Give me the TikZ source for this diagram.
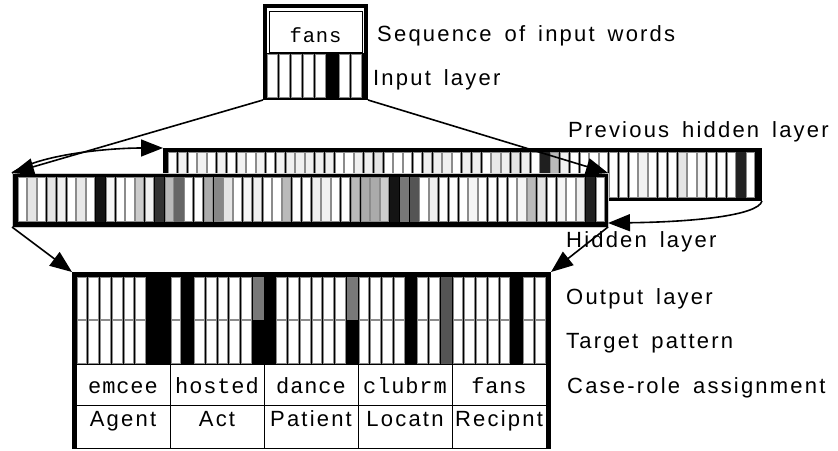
\documentclass[tikz,border=0pt]{standalone}
\usepackage{fontspec}
\setmainfont{Liberation Sans}
\newfontfamily\labelfont[LetterSpace=10]{Liberation Sans}
\newfontfamily\wordfont[LetterSpace=4]{Liberation Mono}
\usetikzlibrary{arrows.meta,calc}
\newcommand\sidefont{\labelfont\fontsize{22}{26}\selectfont\spaceskip=13pt\relax}
\tikzset{
  layerbox/.style={fill=black,inner sep=0pt,outer sep=0pt},
  unitcell/.style={line width=0.6pt},
  bigarrow/.style={line width=1.6pt,-{Triangle[length=22pt,width=17pt]}},
  sidelabel/.style={anchor=base west,inner sep=0pt,font=\sidefont},
  wordlabel/.style={anchor=base,inner sep=0pt,font=\wordfont\fontsize{22}{24}\selectfont},
  rolelabel/.style={anchor=base,inner sep=0pt,font=\labelfont\fontsize{22}{26}\selectfont},
}
\begin{document}
\begin{tikzpicture}[x=1pt,y=-1pt]
  \useasboundingbox (0,0) rectangle (838,450);
  \def\hpitch{9.8}
  \def\opitch{11.75}
  % unit activations in percent black
  \def\prevact{0,5,0,5,0,5,0,5,0,5, 0,5,6,6,6,6,6,0,0,6, 6,10,0,0,0,0,6,6,6,0,
    6,6,0,9,6,10,6,0,88,27, 6,0,0,0,0,0,0,0,5,0, 0,0,10,0,4,0,0,0,87,0}
  \def\hidact{0,10,0,10,6,0,9,0,92,3, 0,0,20,6,80,27,60,0,0,33, 47,10,0,4,6,0,0,27,0,0,
    6,6,0,0,27,33,33,20,92,53, 67,0,6,0,0,0,4,0,0,0, 0,4,27,10,0,4,0,6,87,0}
  \def\outact{0,0,0,0,0,0,100,100, 0,100,0,0,0,0,0,53, 100,0,0,0,0,0,0,53,
    0,0,0,0,100,0,0,67, 0,0,0,0,0,100,0,0}
  \def\tgtact{0,0,0,0,0,0,100,100, 0,100,0,0,0,0,0,100, 100,0,0,0,0,0,0,100,
    0,0,0,0,100,0,0,67, 0,0,0,0,0,100,0,0}

  % previous hidden layer
  \node[layerbox,minimum width=599pt,minimum height=53pt] (prev) at (462.5,174.5) {};
  \foreach \a [count=\k from 0] in \prevact {
    \pgfmathtruncatemacro\ed{max(45,\a)}
    \filldraw[unitcell,draw=black!\ed,fill=black!\a] ({167.5+\k*\hpitch+0.8},152.5) rectangle ({167.5+(\k+1)*\hpitch-0.8},197);
  }

  % hidden layer
  \node[layerbox,draw=black!20,line width=0.8pt,minimum width=596pt,minimum height=54pt] (hid) at (310,200) {};
  \foreach \a [count=\k from 0] in \hidact {
    \pgfmathtruncatemacro\ed{max(45,\a)}
    \filldraw[unitcell,draw=black!\ed,fill=black!\a] ({17+\k*\hpitch+0.8},177.5) rectangle ({17+(\k+1)*\hpitch-0.8},221.5);
  }

  % input word and input layer
  \node[layerbox,minimum width=105pt,minimum height=96pt] (inp) at (315.5,52) {};
  \fill[white] (267,8) rectangle (364,53);
  \draw[line width=0.8pt] (269,11) rectangle (362,52);
  \node[wordlabel,font=\wordfont\fontsize{20.5}{24}\selectfont] (inword) at (315.5,42) {fans};
  \foreach \a [count=\k from 0] in {0,0,0,0,0,100,0,0} {
    \pgfmathtruncatemacro\ed{max(45,\a)}
    \filldraw[unitcell,draw=black!\ed,fill=black!\a] ({266+\k*12+0.9},54.5) rectangle ({266+(\k+1)*12-0.9},97);
  }

  % output layer, target pattern and case roles
  \node[layerbox,minimum width=479pt,minimum height=177pt] (out) at (311.5,360.5) {};
  \foreach \a [count=\k from 0] in \outact {
    \pgfmathtruncatemacro\ed{max(45,\a)}
    \filldraw[unitcell,draw=black!\ed,fill=black!\a] ({76+\k*\opitch+1},277.5) rectangle ({76+(\k+1)*\opitch-1},319);
  }
  \foreach \a [count=\k from 0] in \tgtact {
    \pgfmathtruncatemacro\ed{max(45,\a)}
    \filldraw[unitcell,draw=black!\ed,fill=black!\a] ({76+\k*\opitch+1},320) rectangle ({76+(\k+1)*\opitch-1},363);
  }
  \fill[white] (77,365) rectangle (546,448);
  \draw[line width=0.8pt] (77,405) -- (546,405);
  \foreach \g in {1,...,4}
    \draw[line width=0.8pt] ({76+8*\g*\opitch},364) -- ({76+8*\g*\opitch},448);
  \foreach \w [count=\k from 0] in {emcee,hosted,dance,clubrm,fans}
    \node[wordlabel] (word\k) at ({76+(8*\k+4)*\opitch},393) {\w};
  \foreach \r [count=\k from 0] in {Agent,Act,Patient,Locatn,Recipnt}
    \node[rolelabel] (role\k) at ({76+(8*\k+4)*\opitch},426) {\r};

  % connections
  \draw[bigarrow] (inp.south west) -- (hid.north west);
  \draw[bigarrow] (inp.south east) -- (hid.north east);
  \draw[bigarrow] (hid.north west) .. controls (40,154) and (110,148) .. (prev.north west);
  \draw[bigarrow] (prev.south east) .. controls (758,216) and (690,222) .. ($(hid.south east)+(0,-4)$);
  \draw[bigarrow] (hid.south west) -- (out.north west);
  \draw[bigarrow] (hid.south east) -- (out.north east);

  % labels
  \node[sidelabel] (seqlbl) at (377,41) {Sequence of input words};
  \node[sidelabel] (inlbl) at (373,85) {Input layer};
  \node[sidelabel] (prevlbl) at (568,137) {Previous hidden layer};
  \node[sidelabel] (hidlbl) at (566,247) {Hidden layer};
  \node[sidelabel] (outlbl) at (566,304) {Output layer};
  \node[sidelabel] (tgtlbl) at (566,348) {Target pattern};
  \node[sidelabel] (caselbl) at (567,393) {Case-role assignment};
\end{tikzpicture}
\end{document}
